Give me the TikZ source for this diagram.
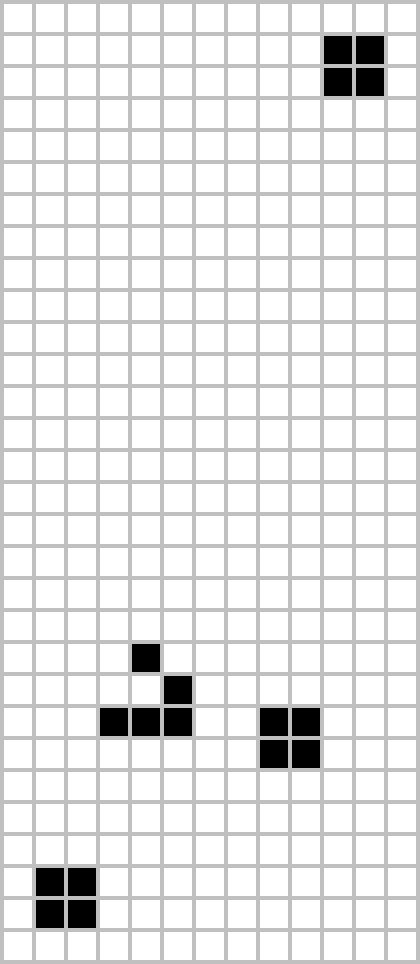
\documentclass[tikz,border=0pt]{standalone}
\usepackage{xcolor}
\usepackage{tikz}
\definecolor{gridgray}{RGB}{192,192,192}
\begin{document}
\begin{tikzpicture}[
  x=0.64cm, y=-0.64cm,
  live/.style={fill=black},
  gridline/.style={draw=gridgray, line width=0.08cm}
]
  \useasboundingbox (-0.0625,-0.0625) rectangle (13.0625,30.0625);
  % live cells: block, glider, block, block
  \foreach \c/\r in {10/1,11/1,10/2,11/2,
                     4/20,5/21,3/22,4/22,5/22,
                     8/22,9/22,8/23,9/23,
                     1/27,2/27,1/28,2/28}
    \fill[live] (\c,\r) rectangle ++(1,1);
  % grid
  \foreach \i in {0,...,13}
    \draw[gridline] (\i,-0.0625) -- (\i,30.0625);
  \foreach \j in {0,...,30}
    \draw[gridline] (-0.0625,\j) -- (13.0625,\j);
\end{tikzpicture}
\end{document}
